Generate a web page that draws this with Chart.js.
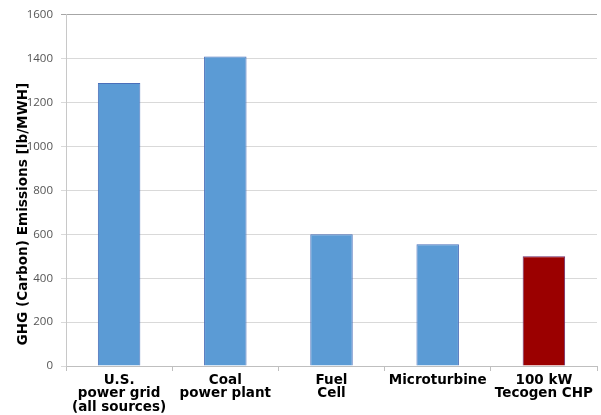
<!DOCTYPE html>
<html>
<head>
<meta charset="utf-8">
<script src="https://cdn.jsdelivr.net/npm/chart.js@4/dist/chart.umd.min.js"></script>
<style>
  html, body { margin: 0; padding: 0; background: #fff; }
  #wrap { width: 601px; height: 415px; position: relative; }
</style>
</head>
<body>
<div id="wrap"><canvas id="c" width="601" height="415"></canvas></div>
<script>
// Greenhouse-gas emissions by generation source
const categories = [
  ["U.S.", "power grid", "(all sources)"],
  ["Coal", "power plant"],
  ["Fuel", "Cell"],
  ["Microturbine"],
  ["100 kW", "Tecogen CHP"]
];
const emissions = [1290, 1410, 600, 555, 500];
const barColors = ["#5b9bd5", "#5b9bd5", "#5b9bd5", "#5b9bd5", "#9b0000"];
const barBorders = ["#4a6fba", "#4a6fba", "#4a6fba", "#4a6fba", "#6a2a6a"];
const yTicks = [0, 200, 400, 600, 800, 1000, 1200, 1400, 1600];
// trailing spaces nudge the rotated title down along the axis
const yTitle = "GHG (Carbon) Emissions [lb/MWH]" + " ".repeat(10);

new Chart(document.getElementById("c"), {
  type: "bar",
  data: {
    labels: categories,
    datasets: [{
      data: emissions,
      backgroundColor: barColors,
      borderColor: barBorders,
      borderWidth: 1,
      categoryPercentage: 1.0,
      barPercentage: 0.4
    }]
  },
  options: {
    responsive: false,
    animation: false,
    layout: { padding: { left: 0, right: 4, top: 2, bottom: 0 } },
    plugins: { legend: { display: false }, tooltip: { enabled: false } },
    scales: {
      x: {
        offset: true,
        grid: {
          display: true,
          drawOnChartArea: false,
          offset: true,
          tickLength: 5,
          color: "#bfbfbf"
        },
        border: { display: true, color: "#bfbfbf" },
        ticks: {
          color: "#000",
          padding: 3,
          maxRotation: 0,
          autoSkip: false,
          font: { family: "DejaVu Sans", weight: "bold", size: 13.5, lineHeight: 0.98 }
        },
        afterFit: (s) => { s.height = 49; }
      },
      y: {
        min: 0,
        max: 1600,
        afterBuildTicks: (s) => { s.ticks = yTicks.map(v => ({ value: v })); },
        grid: {
          color: (ctx) => ctx.tick && ctx.tick.value === 1600 ? "#a6a6a6" : "#d9d9d9",
          tickLength: 5
        },
        border: { display: true, color: "#c8c8c8" },
        ticks: {
          color: "#555555",
          padding: 8,
          callback: (v) => String(v),
          font: { family: "Open Sans", size: 11.5 }
        },
        title: {
          display: true,
          text: yTitle,
          color: "#000",
          padding: { top: 15, bottom: 0 },
          font: { family: "DejaVu Sans", weight: "bold", size: 13.6 }
        },
        afterFit: (s) => { s.width = 66; }
      }
    }
  }
});
</script>
</body>
</html>
